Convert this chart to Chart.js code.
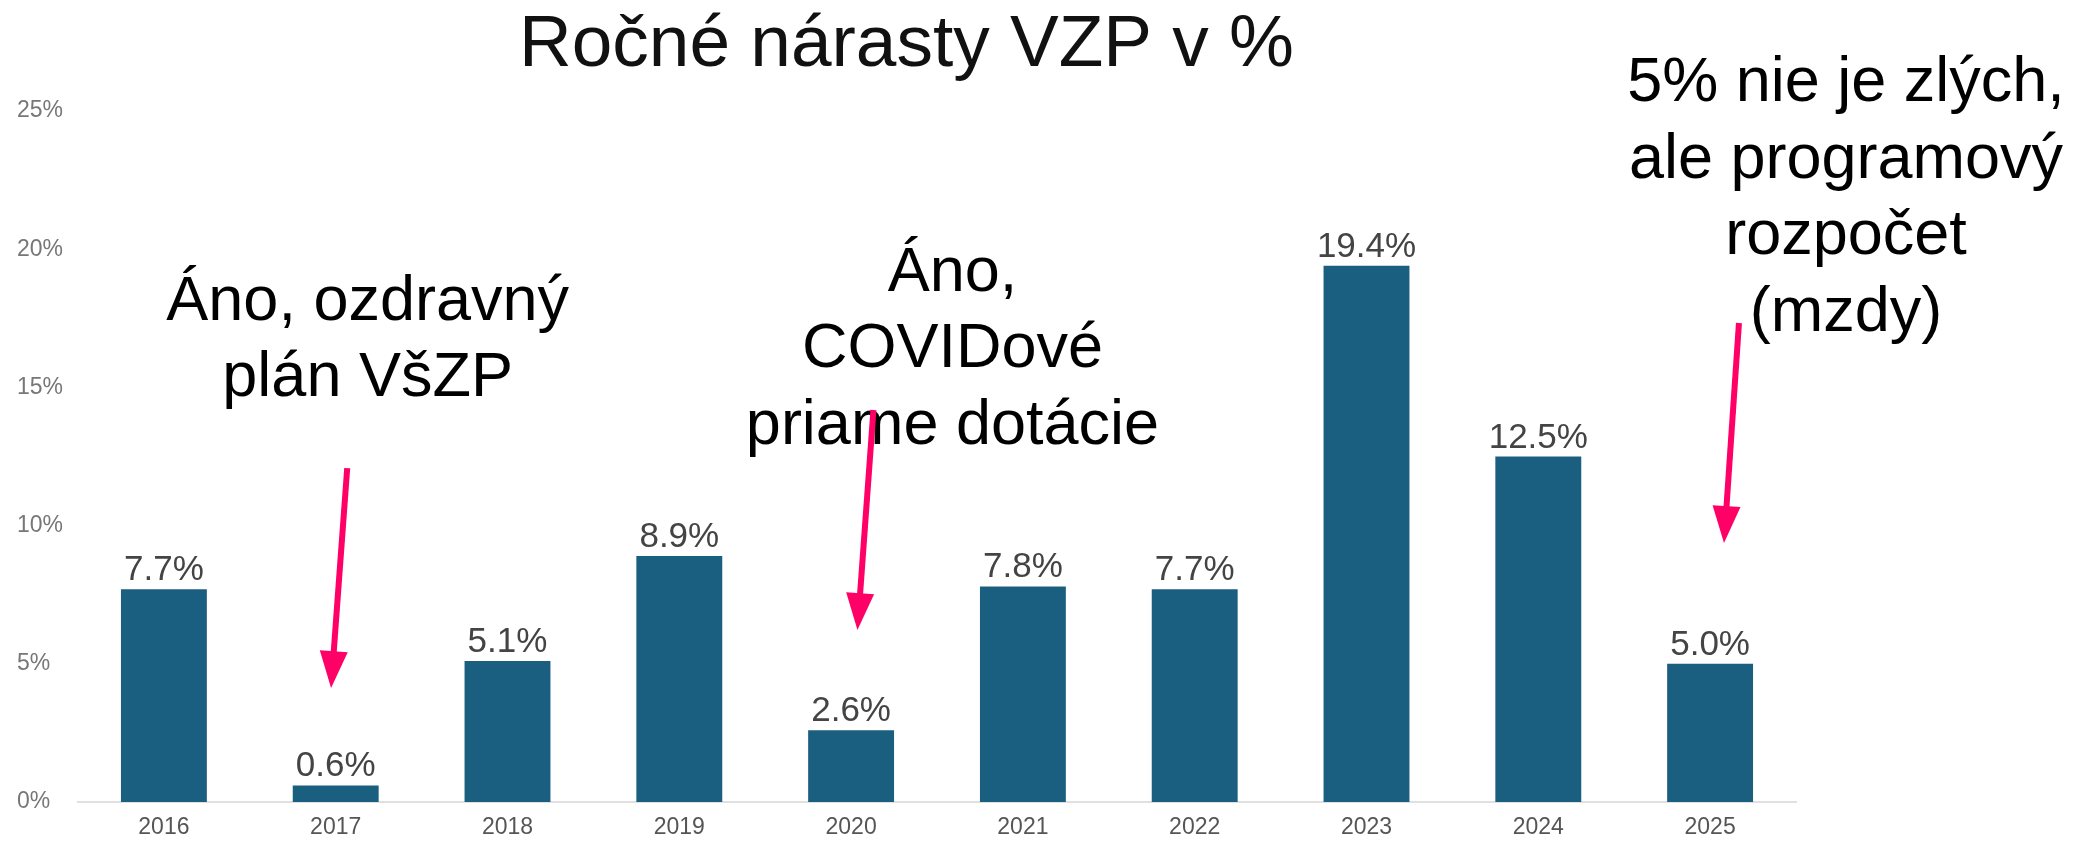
<!DOCTYPE html>
<html>
<head>
<meta charset="utf-8">
<script src="https://cdn.jsdelivr.net/npm/chart.js@4/dist/chart.umd.min.js"></script>
<style>
  html, body { margin: 0; padding: 0; background: #fff; }
  #wrap { width: 2093px; height: 842px; }
</style>
</head>
<body>
<div id="wrap"><canvas id="c" width="2093" height="842"></canvas></div>
<script>
// ---- data ----
const categories = ['2016','2017','2018','2019','2020','2021','2022','2023','2024','2025'];
const growthPct = [7.7, 0.6, 5.1, 8.9, 2.6, 7.8, 7.7, 19.4, 12.5, 5.0];
const yTicks = [0, 5, 10, 15, 20, 25];
const titleText = 'Ročné nárasty VZP v %';

// annotation texts (positions given in data units: category index / percent)
const noteTexts = [
  ['Áno, ozdravný', 'plán VšZP'],
  ['Áno,', 'COVIDové', 'priame dotácie'],
  ['5% nie je zlých,', 'ale programový', 'rozpočet', '(mzdy)']
];
const noteAnchors = [
  { x: 1.186, y: 17.44, ax0: 1.067, ay0: 12.08, ax1: 0.973, ay1: 4.12 },
  { x: 4.590, y: 18.49, ax0: 4.130, ay0: 14.18, ax1: 4.037, ay1: 6.22 },
  { x: 9.791, y: 25.36, ax0: 9.168, ay0: 17.33, ax1: 9.081, ay1: 9.37 }
];

const FONT = "'Liberation Sans', Arial, Helvetica, sans-serif";

const labelsAndNotes = {
  id: 'labelsAndNotes',
  afterDatasetsDraw(chart) {
    const ctx = chart.ctx;
    const xs = chart.scales.x, ys = chart.scales.y;
    const meta = chart.getDatasetMeta(0);
    ctx.save();
    // value labels
    ctx.font = '35px ' + FONT;
    ctx.fillStyle = '#444444';
    ctx.textAlign = 'center';
    ctx.textBaseline = 'alphabetic';
    meta.data.forEach((bar, i) => {
      ctx.fillText(growthPct[i].toFixed(1) + '%', bar.x, bar.y - 9);
    });
    // annotation texts
    ctx.font = '63px ' + FONT;
    ctx.fillStyle = '#000000';
    noteTexts.forEach((lines, k) => {
      const a = noteAnchors[k];
      const px = xs.getPixelForValue(a.x);
      const py = ys.getPixelForValue(a.y);
      lines.forEach((t, j) => ctx.fillText(t, px, py + j * 76.5));
    });
    // arrows
    ctx.strokeStyle = '#ff0066';
    ctx.fillStyle = '#ff0066';
    ctx.lineWidth = 6;
    ctx.lineCap = 'butt';
    noteAnchors.forEach(a => {
      const x0 = xs.getPixelForValue(a.ax0), y0 = ys.getPixelForValue(a.ay0);
      const x1 = xs.getPixelForValue(a.ax1), y1 = ys.getPixelForValue(a.ay1);
      const dx = x1 - x0, dy = y1 - y0;
      const len = Math.hypot(dx, dy);
      const ux = dx / len, uy = dy / len;
      const headLen = 37, headHalf = 14;
      const bx = x1 - ux * headLen, by = y1 - uy * headLen;
      ctx.beginPath();
      ctx.moveTo(x0, y0);
      ctx.lineTo(bx + ux * 2, by + uy * 2);
      ctx.stroke();
      ctx.beginPath();
      ctx.moveTo(x1, y1);
      ctx.lineTo(bx - uy * headHalf, by + ux * headHalf);
      ctx.lineTo(bx + uy * headHalf, by - ux * headHalf);
      ctx.closePath();
      ctx.fill();
    });
    ctx.restore();
  }
};

new Chart(document.getElementById('c'), {
  type: 'bar',
  data: {
    labels: categories,
    datasets: [{
      data: growthPct,
      backgroundColor: '#1a5e80',
      borderWidth: 0,
      barPercentage: 0.5,
      categoryPercentage: 1.0
    }]
  },
  options: {
    responsive: false,
    animation: false,
    devicePixelRatio: 1,
    layout: { padding: { left: 17, right: 297, top: 0, bottom: 0 } },
    plugins: {
      legend: { display: false },
      tooltip: { enabled: false },
      title: {
        display: true,
        text: titleText,
        color: '#111111',
        font: { family: FONT, size: 73, weight: 'normal', lineHeight: 1 },
        padding: { top: 9, bottom: 29 }
      }
    },
    scales: {
      x: {
        grid: { display: true, color: 'rgba(0,0,0,0)', drawTicks: false },
        border: { display: true, color: '#e0e0e0', width: 2 },
        ticks: { color: '#555555', font: { family: FONT, size: 23 }, padding: 12, maxRotation: 0 },
        afterFit(s) { s.height = 40; }
      },
      y: {
        min: 0, max: 25,
        grid: { display: false },
        border: { display: false },
        afterBuildTicks(s) { s.ticks = yTicks.map(v => ({ value: v })); },
        ticks: {
          color: '#777777',
          font: { family: FONT, size: 23 },
          crossAlign: 'far',
          padding: 0,
          callback: v => v + '%'
        },
        afterFit(s) { s.width = 61; }
      }
    }
  },
  plugins: [labelsAndNotes]
});
</script>
</body>
</html>
